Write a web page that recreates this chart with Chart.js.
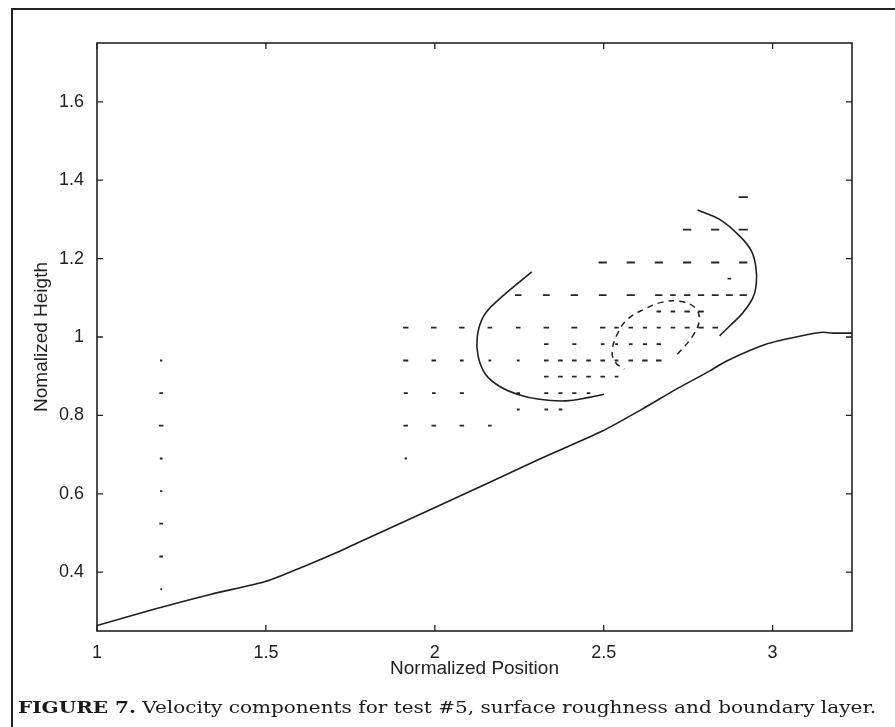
<!DOCTYPE html>
<html>
<head>
<meta charset="utf-8">
<script src="https://cdn.jsdelivr.net/npm/chart.js@4.4.1/dist/chart.umd.min.js"></script>
<style>
  html, body { margin: 0; padding: 0; background: #fff; }
  #wrap { position: relative; width: 895px; height: 727px; overflow: hidden; }
  #frame { position: absolute; left: 11px; top: 8px; width: 1000px; height: 1000px;
           border-left: 2px solid #222; border-top: 2px solid #222; }
  #plot { position: absolute; left: 0; top: 0; }
  #caption { position: absolute; left: 18px; top: 697px; font-family: "DejaVu Serif", serif;
             font-size: 17px; color: #1a1a1a; white-space: nowrap; transform-origin: 0 0; }
</style>
</head>
<body>
<div id="wrap">
  <div id="frame"></div>
  <canvas id="plot" width="895" height="727"></canvas>
  <div id="caption"><b>FIGURE 7.</b> Velocity components for test #5, surface roughness and boundary layer.</div>
</div>
<script>
// surface profile (solid line at the bottom)
const surfX = [1.0, 1.171, 1.338, 1.498, 1.616, 1.715, 1.774, 1.991, 2.309, 2.496, 2.614, 2.715, 2.813, 2.864, 2.982, 3.08, 3.148, 3.178, 3.235];
const surfY = [0.264, 0.306, 0.344, 0.376, 0.416, 0.452, 0.476, 0.561, 0.688, 0.76, 0.816, 0.867, 0.913, 0.939, 0.982, 1.002, 1.012, 1.01, 1.01];

// boundary layer edges
const edgeLX = [2.287, 2.19, 2.145, 2.126, 2.128, 2.15, 2.19, 2.244, 2.309, 2.388, 2.457, 2.501];
const edgeLY = [1.166, 1.096, 1.054, 1.003, 0.952, 0.905, 0.875, 0.854, 0.841, 0.837, 0.846, 0.854];
const edgeRX = [2.778, 2.843, 2.902, 2.937, 2.95, 2.952, 2.942, 2.912, 2.873, 2.843];
const edgeRY = [1.324, 1.3, 1.258, 1.22, 1.181, 1.139, 1.101, 1.062, 1.028, 1.003];

// recirculation zone (dashed)
const eddyX = [2.718, 2.763, 2.783, 2.769, 2.724, 2.674, 2.62, 2.57, 2.54, 2.525, 2.534, 2.561];
const eddyY = [0.956, 1.002, 1.045, 1.076, 1.091, 1.089, 1.071, 1.045, 1.007, 0.964, 0.936, 0.918];

// velocity vectors: one row per height, x of each arrow and its horizontal component
const rowY = [1.357, 1.274, 1.19, 1.149, 1.107, 1.065, 1.024, 0.982, 0.94, 0.899, 0.857, 0.815, 0.774, 0.69];
const rowX = [
  [2.913],
  [2.747, 2.83, 2.913],
  [2.497, 2.58, 2.663, 2.747, 2.83, 2.913],
  [2.872],
  [2.247, 2.33, 2.413, 2.497, 2.58, 2.663, 2.705, 2.747, 2.788, 2.83, 2.872, 2.913],
  [2.663, 2.705, 2.747, 2.788],
  [1.914, 1.997, 2.08, 2.163, 2.247, 2.33, 2.413, 2.497, 2.538, 2.58, 2.622, 2.663, 2.705, 2.747, 2.788, 2.83],
  [2.33, 2.413, 2.497, 2.538, 2.58, 2.622, 2.663],
  [1.914, 1.997, 2.08, 2.163, 2.247, 2.33, 2.372, 2.413, 2.455, 2.497, 2.538, 2.58, 2.622, 2.663],
  [2.33, 2.372, 2.413, 2.455, 2.497, 2.538],
  [1.914, 1.997, 2.08, 2.247, 2.33, 2.372, 2.413, 2.455],
  [2.247, 2.33, 2.372],
  [1.914, 1.997, 2.08, 2.163],
  [1.914]
];
const rowU = [
  [0.02],
  [0.018, 0.018, 0.02],
  [0.018, 0.018, 0.018, 0.018, 0.018, 0.018],
  [0.008],
  [0.014, 0.015, 0.016, 0.017, 0.018, 0.016, 0.012, 0.014, 0.014, 0.015, 0.015, 0.016],
  [0.01, 0.01, 0.012, 0.012],
  [0.012, 0.012, 0.012, 0.01, 0.01, 0.012, 0.013, 0.012, 0.01, 0.01, 0.009, 0.009, 0.01, 0.011, 0.012, 0.012],
  [0.01, 0.009, 0.008, 0.006, 0.008, 0.009, 0.01],
  [0.011, 0.01, 0.008, 0.006, 0.006, 0.01, 0.01, 0.01, 0.01, 0.01, 0.008, 0.01, 0.012, 0.012],
  [0.01, 0.01, 0.01, 0.01, 0.01, 0.008],
  [0.009, 0.008, 0.009, 0.008, 0.009, 0.009, 0.009, 0.008],
  [0.006, 0.008, 0.008],
  [0.01, 0.01, 0.01, 0.008],
  [0.005]
];
// upstream profile
const upX = 1.19;
const upY = [0.94, 0.857, 0.774, 0.69, 0.607, 0.524, 0.44, 0.357];
const upU = [0.005, 0.008, 0.01, 0.006, 0.005, 0.008, 0.008, 0.004];

const xTicks = [1, 1.5, 2, 2.5, 3];
const arrowScale = 1.35;   // quiver display scale

const pts = (xs, ys) => xs.map((v, i) => ({x: v, y: ys[i]}));

// each arrow becomes a short segment, separated by a gap point
const arrows = [];
function addArrow(x, y, u) {
  const h = u * arrowScale / 2;
  arrows.push({x: x - h, y: y}, {x: x + h, y: y}, {x: x, y: null});
}
rowY.forEach((yy, i) => rowX[i].forEach((xx, j) => addArrow(xx, yy, rowU[i][j])));
upY.forEach((yy, i) => addArrow(upX, yy, upU[i]));

// box around the axes with inward ticks on all four sides
const frameTicks = {
  id: 'frameTicks',
  afterDatasetsDraw(chart) {
    const {ctx, chartArea: a, scales: {x, y}} = chart;
    const t = 6;
    ctx.save();
    ctx.strokeStyle = '#222';
    ctx.lineWidth = 1.6;
    ctx.strokeRect(a.left, a.top, a.right - a.left, a.bottom - a.top);
    ctx.lineWidth = 1.3;
    ctx.beginPath();
    x.ticks.forEach(tk => {
      const px = x.getPixelForValue(tk.value);
      ctx.moveTo(px, a.bottom); ctx.lineTo(px, a.bottom - t);
      ctx.moveTo(px, a.top); ctx.lineTo(px, a.top + t);
    });
    y.ticks.forEach(tk => {
      const py = y.getPixelForValue(tk.value);
      ctx.moveTo(a.left, py); ctx.lineTo(a.left + t, py);
      ctx.moveTo(a.right, py); ctx.lineTo(a.right - t, py);
    });
    ctx.stroke();
    ctx.restore();
  }
};

const lineStyle = {showLine: true, pointRadius: 0, borderColor: '#1e1e1e', borderWidth: 1.6, fill: false};
const tickFont = {family: 'Liberation Sans', size: 18};
const titleFont = {family: 'Liberation Sans', size: 19};

new Chart(document.getElementById('plot'), {
  type: 'scatter',
  data: {
    datasets: [
      {...lineStyle, data: pts(surfX, surfY), tension: 0.25},
      {...lineStyle, data: pts(edgeLX, edgeLY), tension: 0.4},
      {...lineStyle, data: pts(edgeRX, edgeRY), tension: 0.4},
      {...lineStyle, data: pts(eddyX, eddyY), tension: 0.4, borderDash: [6, 5], borderWidth: 1.5},
      {...lineStyle, data: arrows, spanGaps: false, borderWidth: 1.8, borderColor: '#262626'}
    ]
  },
  options: {
    responsive: false,
    animation: false,
    layout: {padding: {left: 30, top: 43, right: 43, bottom: 47}},
    plugins: {legend: {display: false}, tooltip: {enabled: false}},
    scales: {
      x: {
        type: 'linear', min: 1, max: 3.235,
        afterBuildTicks: s => { s.ticks = xTicks.map(v => ({value: v})); },
        afterFit: s => { s.height = 49; },
        grid: {display: false}, border: {display: false},
        ticks: {padding: 3, color: '#222', font: tickFont,
                maxRotation: 0, callback: v => String(+v.toFixed(2))},
        title: {display: true, text: 'Normalized Position', color: '#222', padding: 0, font: titleFont}
      },
      y: {
        type: 'linear', min: 0.25, max: 1.75,
        ticks: {stepSize: 0.2, includeBounds: false, padding: 5, color: '#222',
                font: tickFont, callback: v => String(+v.toFixed(2))},
        afterFit: s => { s.width = 67; },
        grid: {display: false}, border: {display: false},
        title: {display: true, text: 'Nomalized Heigth', color: '#222', padding: 0, font: titleFont}
      }
    }
  },
  plugins: [frameTicks]
});

// stretch the caption across the figure width
const cap = document.getElementById('caption');
cap.style.transform = 'scaleX(' + (858 / cap.offsetWidth) + ')';
</script>
</body>
</html>
